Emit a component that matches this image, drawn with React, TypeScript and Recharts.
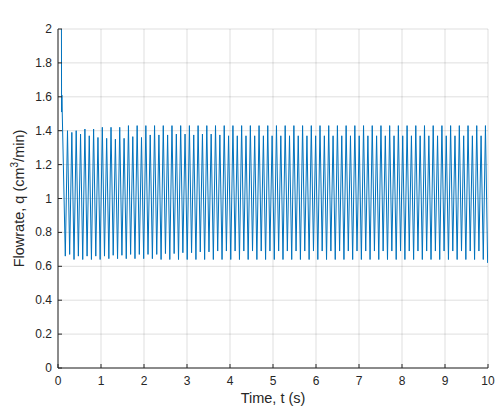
import { LineChart, Line, XAxis, YAxis, CartesianGrid } from "recharts"

// start-up transient (s, cm^3/min)
const startT = [0.08, 0.083, 0.09]
const startQ = [2.0, 1.51, 1.61]

// oscillation: trough, peak, trough, peak ... sampled every half cycle
const firstTrough = 0.17
const halfCycle = 0.050625

const peaks = [
  1.40, 1.39, 1.40, 1.38, 1.41, 1.37, 1.41, 1.36, 1.42, 1.355,
  1.42, 1.35, 1.42, 1.355, 1.43, 1.365, 1.43, 1.36, 1.43, 1.375,
  1.43, 1.375, 1.43, 1.375, 1.43, 1.38, 1.43, 1.38, 1.43, 1.375,
  1.43, 1.38, 1.43, 1.38, 1.43, 1.375, 1.43, 1.37, 1.43, 1.37,
  1.43, 1.37, 1.43, 1.37, 1.43, 1.37, 1.43, 1.37, 1.43, 1.37,
  1.43, 1.37, 1.43, 1.37, 1.43, 1.37, 1.43, 1.37, 1.43, 1.37,
  1.43, 1.37, 1.43, 1.37, 1.43, 1.37, 1.43, 1.37, 1.43, 1.37,
  1.43, 1.37, 1.43, 1.37, 1.43, 1.37, 1.43, 1.37, 1.43, 1.37,
  1.43, 1.37, 1.43, 1.37, 1.43, 1.37, 1.43, 1.37, 1.43, 1.37,
  1.43, 1.37, 1.43, 1.37, 1.43, 1.37, 1.43,
]

const troughs = [
  0.66, 0.67, 0.64, 0.66, 0.64, 0.66, 0.64, 0.66, 0.64, 0.66,
  0.645, 0.665, 0.645, 0.665, 0.645, 0.67, 0.645, 0.67, 0.645, 0.67,
  0.645, 0.67, 0.64, 0.675, 0.64, 0.675, 0.64, 0.68, 0.64, 0.68,
  0.64, 0.685, 0.64, 0.685, 0.64, 0.69, 0.64, 0.69, 0.64, 0.69,
  0.64, 0.69, 0.64, 0.69, 0.64, 0.69, 0.64, 0.69, 0.64, 0.69,
  0.64, 0.69, 0.64, 0.69, 0.64, 0.69, 0.64, 0.69, 0.64, 0.69,
  0.64, 0.69, 0.64, 0.69, 0.64, 0.69, 0.64, 0.69, 0.64, 0.69,
  0.64, 0.69, 0.64, 0.69, 0.64, 0.69, 0.64, 0.69, 0.64, 0.69,
  0.64, 0.69, 0.64, 0.69, 0.64, 0.69, 0.64, 0.69, 0.64, 0.69,
  0.64, 0.69, 0.64, 0.69, 0.64, 0.69, 0.64, 0.62,
]

const xTicks = [0, 1, 2, 3, 4, 5, 6, 7, 8, 9, 10]
const yTicks = [0, 0.2, 0.4, 0.6, 0.8, 1, 1.2, 1.4, 1.6, 1.8, 2]
const yTickLabels = ["0", "0.2", "0.4", "0.6", "0.8", "1", "1.2", "1.4", "1.6", "1.8", "2"]

const data: { t: number; q: number }[] = []
startT.forEach((t, i) => data.push({ t, q: startQ[i] }))
troughs.forEach((v, k) => {
  data.push({ t: firstTrough + 2 * k * halfCycle, q: v })
  if (k < peaks.length) data.push({ t: firstTrough + (2 * k + 1) * halfCycle, q: peaks[k] })
})

const AX = "#262626"
const FONT = "'Liberation Sans', Arial, sans-serif"
const TICK = 4

const BottomTick = ({ x, y, payload }: any) => (
  <g>
    <line x1={x} x2={x} y1={y} y2={y - TICK} stroke={AX} />
    <text x={x} y={y + 17} textAnchor="middle" fill={AX} fontSize={12} fontFamily={FONT}>
      {payload.value}
    </text>
  </g>
)

const LeftTick = ({ x, y, payload, index }: any) => (
  <g>
    <line x1={x} x2={x + TICK} y1={y} y2={y} stroke={AX} />
    <text x={x - 6} y={y + 4} textAnchor="end" fill={AX} fontSize={12} fontFamily={FONT}>
      {yTickLabels[index] ?? payload.value}
    </text>
  </g>
)

const TopTick = ({ x, y }: any) => <line x1={x} x2={x} y1={y} y2={y + TICK} stroke={AX} />
const RightTick = ({ x, y }: any) => <line x1={x} x2={x - TICK} y1={y} y2={y} stroke={AX} />

const titleLabel = ({ viewBox }: any) => (
  <text x={viewBox.x + viewBox.width / 2} y={20} textAnchor="middle" fill="#000"
    fontSize={14.5} fontWeight="bold" fontFamily={FONT}>
    Flowrate of Syringe Dispenser
  </text>
)

const xLabel = ({ viewBox }: any) => (
  <text x={viewBox.x + viewBox.width / 2} y={403} textAnchor="middle" fill={AX}
    fontSize={14.5} fontFamily={FONT}>
    Time, t (s)
  </text>
)

const yLabel = ({ viewBox }: any) => {
  const cy = viewBox.y + viewBox.height / 2
  return (
    <text x={24} y={cy} textAnchor="middle" fill={AX} fontSize={14.5} fontFamily={FONT}
      transform={`rotate(-90, 24, ${cy})`}>
      Flowrate, q (cm<tspan fontSize={10} dy={-6}>3</tspan><tspan dy={6}>/min)</tspan>
    </text>
  )
}

export default function App() {
  return (
    <div style={{ position: "absolute", left: 0, top: 0, background: "#fff" }}>
      <LineChart width={499} height={409} data={data}
        margin={{ top: 29, right: 11, bottom: 0, left: 0 }}>
        <CartesianGrid stroke={AX} strokeOpacity={0.15} />
        <XAxis dataKey="t" type="number" domain={[0, 10]} ticks={xTicks} allowDataOverflow
          height={41} tickSize={0} tickMargin={0} stroke={AX} tick={<BottomTick />}
          tickLine={false} interval={0} label={xLabel} />
        <XAxis xAxisId="top" orientation="top" dataKey="t" type="number" domain={[0, 10]}
          ticks={xTicks} allowDataOverflow height={0} tickSize={0} tickMargin={0} stroke={AX}
          tick={<TopTick />} tickLine={false} interval={0} label={titleLabel} />
        <YAxis type="number" domain={[0, 2]} ticks={yTicks} allowDataOverflow width={58}
          tickSize={0} tickMargin={0} stroke={AX} tick={<LeftTick />} tickLine={false}
          interval={0} label={yLabel} />
        <YAxis yAxisId="right" orientation="right" type="number" domain={[0, 2]} ticks={yTicks}
          allowDataOverflow width={0} tickSize={0} tickMargin={0} stroke={AX}
          tick={<RightTick />} tickLine={false} interval={0} />
        <Line dataKey="q" type="linear" stroke="#0072BD" strokeWidth={1} dot={false}
          isAnimationActive={false} />
      </LineChart>
    </div>
  )
}
